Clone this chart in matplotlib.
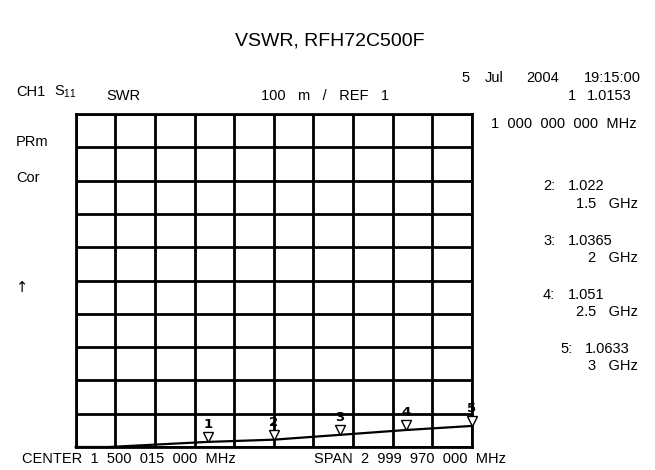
import numpy as np
import matplotlib.pyplot as plt
from matplotlib.transforms import ScaledTranslation

plt.rcParams['font.family'] = ['Liberation Sans', 'DejaVu Sans']

# Trace data (GHz, SWR)
trace_freq = [0.0, 0.25, 1.0, 1.5, 2.0, 2.5, 3.0]
trace_swr = [1.0, 1.0, 1.0153, 1.022, 1.0365, 1.051, 1.0633]

# Markers
marker_ids = ['1', '2', '3', '4', '5']
marker_freq = [1.0, 1.5, 2.0, 2.5, 3.0]
marker_swr = [1.0153, 1.022, 1.0365, 1.051, 1.0633]
marker_freq_lbl = ['1', '1.5', '2', '2.5', '3']
marker_swr_lbl = ['1.0153', '1.022', '1.0365', '1.051', '1.0633']

W, H = 655, 470
fig = plt.figure(figsize=(W / 100, H / 100), dpi=100)


def px(x, y):
    return x / W, 1 - y / H


# grid box in pixels
left, right, top, bottom = 75.7, 472, 114, 447
ax = fig.add_axes([left / W, 1 - bottom / H, (right - left) / W, (bottom - top) / H])
ax.set_xlim(0, 3)
ax.set_ylim(1.0, 2.0)
ax.set_xticks(np.linspace(0, 3, 11))
ax.set_yticks(np.linspace(1.0, 2.0, 11))
ax.grid(True, color='black', lw=2.0)
ax.tick_params(length=0, labelbottom=False, labelleft=False)
for s in ax.spines.values():
    s.set_linewidth(2.0)

ax.plot(trace_freq, trace_swr, color='black', lw=1.6, zorder=5, clip_on=False)

# open triangle sitting on the trace, number above it
tri_off = ax.transData + ScaledTranslation(0, 3.6 / 72, fig.dpi_scale_trans)
for mid, f, v in zip(marker_ids, marker_freq, marker_swr):
    ax.plot([f], [v], marker='v', ms=7, mfc='white', mec='black', mew=1.0,
            linestyle='none', transform=tri_off, zorder=6, clip_on=False)
    ax.annotate(mid, xy=(f, v), xytext=(0, 8), textcoords='offset points',
                ha='center', va='bottom', fontsize=9.5, fontweight='bold',
                family='DejaVu Sans', zorder=7, annotation_clip=False)

fs = 10.5
fig.text(*px(330, 41), 'VSWR, RFH72C500F', ha='center', va='center', fontsize=14)

fig.text(*px(16, 92), 'CH1', ha='left', va='center', fontsize=fs)
fig.text(*px(54, 92), r'S$_{\mathregular{11}}$', ha='left', va='center', fontsize=fs)
fig.text(*px(106, 96), 'SWR', ha='left', va='center', fontsize=fs)
fig.text(*px(261, 96), '100   m   /   REF   1', ha='left', va='center', fontsize=fs)

for tok, x in zip(['5', 'Jul', '2004', '19:15:00'], [461, 485, 526, 584]):
    fig.text(*px(x, 78), tok, ha='left', va='center', fontsize=fs)
fig.text(*px(568, 96), '1', ha='left', va='center', fontsize=fs)
fig.text(*px(587, 96), marker_swr_lbl[0], ha='left', va='center', fontsize=fs)
fig.text(*px(491, 124), '1  000  000  000  MHz', ha='left', va='center', fontsize=fs)

fig.text(*px(16, 142), 'PRm', ha='left', va='center', fontsize=fs)
fig.text(*px(16, 178), 'Cor', ha='left', va='center', fontsize=fs)
fig.text(*px(16, 288), '\u2191', ha='left', va='center', fontsize=fs, family='DejaVu Sans')

ys = [None, (186, 204), (241, 258), (295, 312), (349, 366)]
xs = [None, 543, 543, 543, 560]
for i in range(1, 5):
    fig.text(*px(xs[i], ys[i][0]), f'{marker_ids[i]}:', ha='left', va='center', fontsize=fs)
    fig.text(*px(xs[i] + 25, ys[i][0]), marker_swr_lbl[i], ha='left', va='center', fontsize=fs)
    fig.text(*px(638, ys[i][1]), f'{marker_freq_lbl[i]}   GHz',
             ha='right', va='center', fontsize=fs)

fig.text(*px(22, 459), 'CENTER  1  500  015  000  MHz', ha='left', va='center', fontsize=fs)
fig.text(*px(314, 459), 'SPAN  2  999  970  000  MHz', ha='left', va='center', fontsize=fs)

fig.savefig('out.png', dpi=100)
